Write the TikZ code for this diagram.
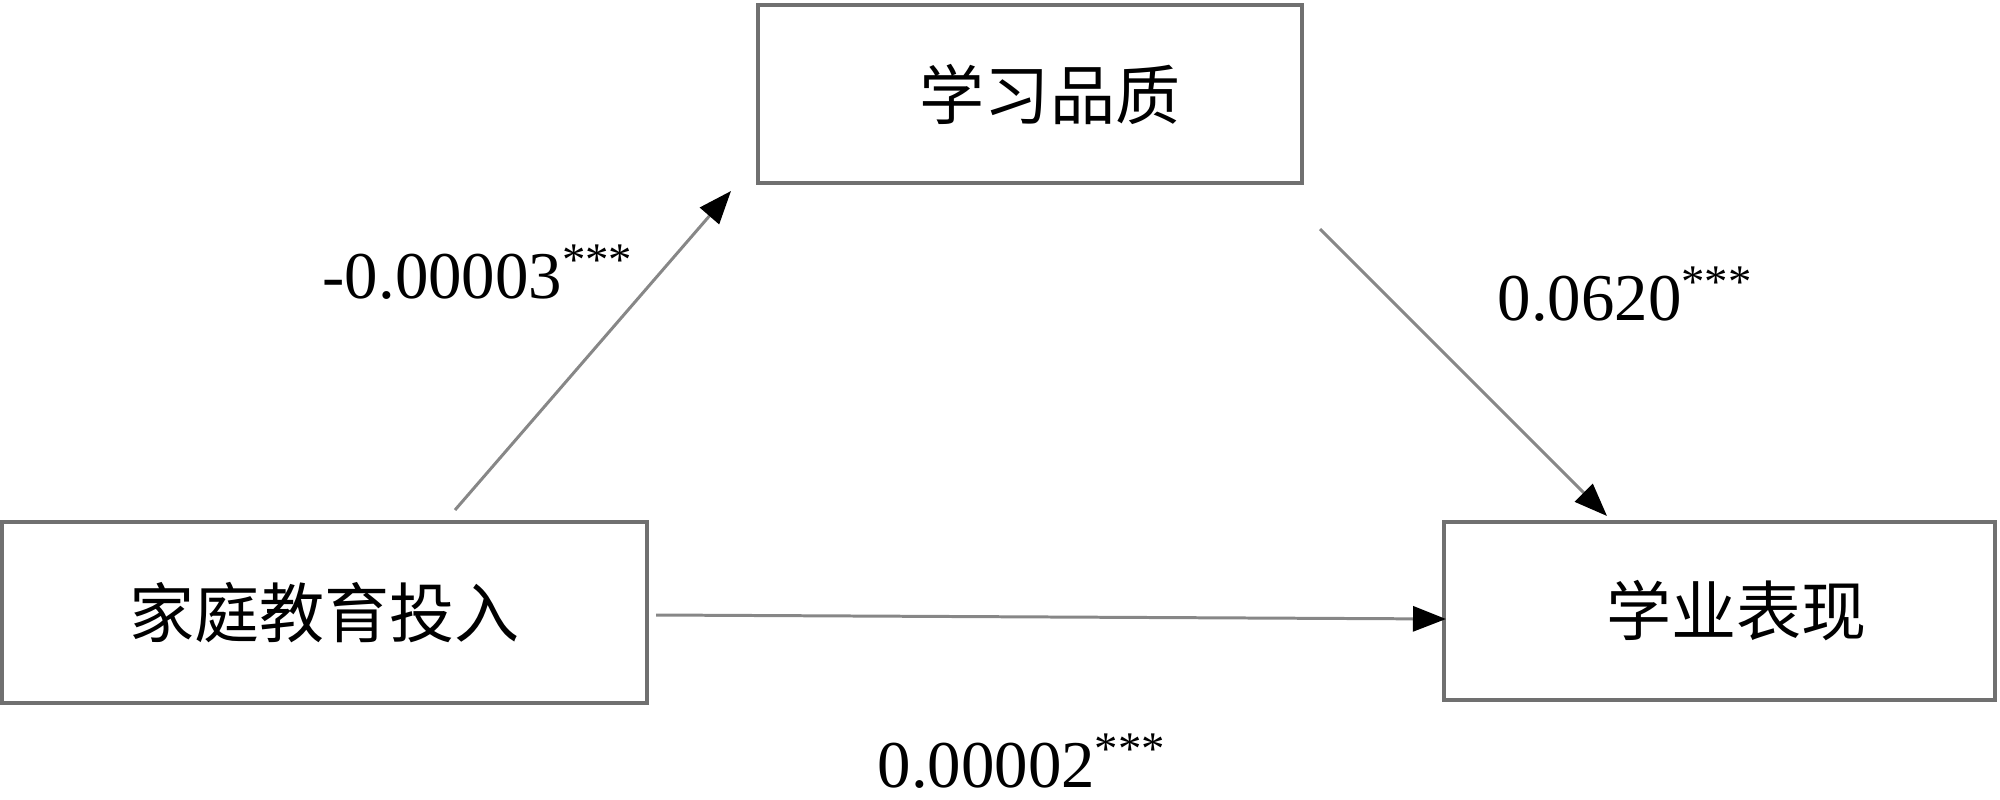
\documentclass[tikz,border=0pt]{standalone}
\usepackage{fontspec}
\setmainfont{Liberation Serif}
\newfontfamily\cjk{Noto Sans CJK SC}
\usetikzlibrary{arrows.meta}
\definecolor{boxgray}{RGB}{112,112,112}
\definecolor{linegray}{RGB}{135,135,135}
\tikzset{
  varbox/.style={draw=boxgray, line width=1pt, fill=white, inner sep=0pt,
    font=\cjk\fontsize{18.5pt}{22pt}\selectfont},
  path/.style={draw=linegray, line width=0.85pt,
    -{Triangle[length=0.33cm,width=0.25cm,color=black]}},
  coef/.style={font=\fontsize{19pt}{23pt}\selectfont, inner sep=0pt, anchor=base west}
}
\begin{document}
\begin{tikzpicture}[x=0.01cm,y=-0.01cm]
\useasboundingbox (0,0) rectangle (2000,800);
\node[varbox, minimum width=5.44cm, minimum height=1.78cm] (lq) at (1030,94) {\hspace*{0.4cm}学习品质};
\node[varbox, minimum width=6.45cm, minimum height=1.81cm] (inv) at (324.5,612.5) {家庭教育投入};
\node[varbox, minimum width=5.51cm, minimum height=1.78cm] (perf) at (1719.5,611) {\hspace*{0.34cm}学业表现};
\coordinate (a1s) at (455,510);
\coordinate (a1e) at (731,191);
\coordinate (a2s) at (1320,229);
\coordinate (a2e) at (1607,516);
\coordinate (a3s) at (656,615);
\coordinate (a3e) at (1446,619);
\draw[path] (a1s) -- (a1e);
\draw[path] (a2s) -- (a2e);
\draw[path] (a3s) -- (a3e);
\node[coef] (c1) at (322,298) {-0.00003\textsuperscript{***}};
\node[coef] (c2) at (1497,320) {0.0620\textsuperscript{***}};
\node[coef] (c3) at (877,787) {0.00002\textsuperscript{***}};
\end{tikzpicture}
\end{document}
